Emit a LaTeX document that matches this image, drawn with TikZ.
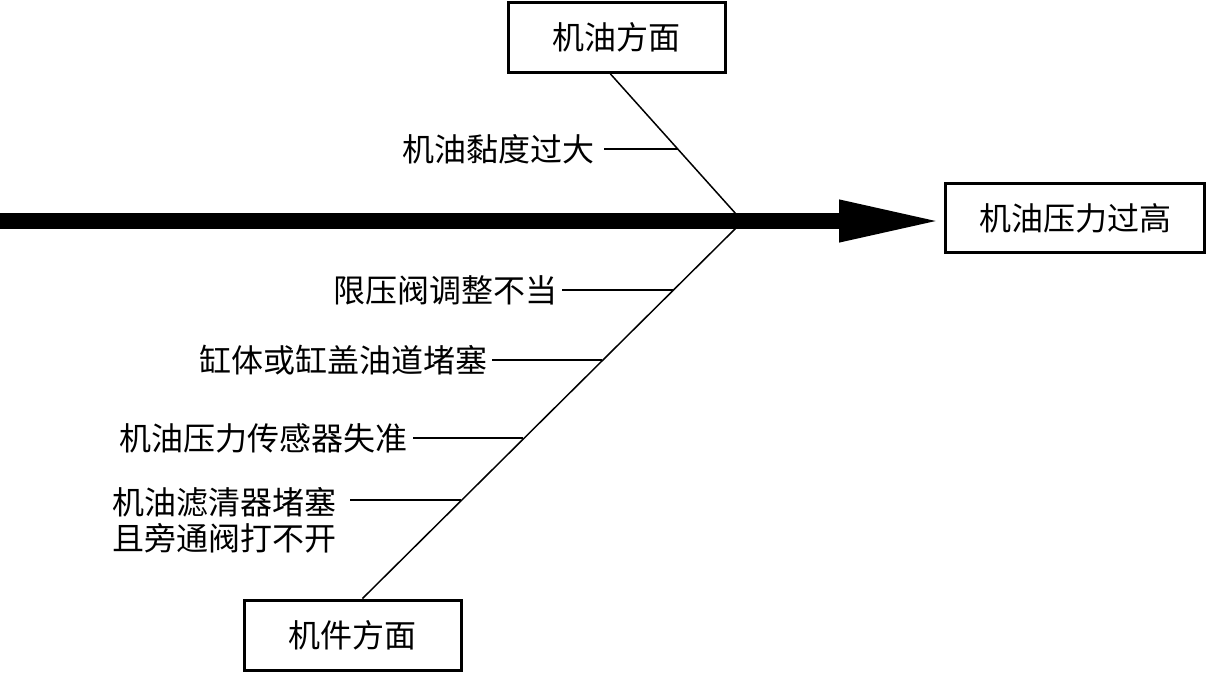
\documentclass[tikz,border=0pt]{standalone}
\usepackage{fontspec}
\newfontfamily\cjk{Noto Sans CJK SC}
\usetikzlibrary{arrows.meta}
\begin{document}
\begin{tikzpicture}[x=1pt,y=-1pt,
  every node/.style={font=\cjk\fontsize{32}{38}\selectfont, inner sep=0pt},
  catbox/.style={draw, line width=3pt, minimum width=217pt, minimum height=70pt},
  bone/.style={line width=1.5pt},
  twig/.style={line width=1.3pt},
  causelabel/.style={anchor=east}]
\useasboundingbox (0,0) rectangle (1210,673);
\node[catbox] (top) at (616.5,37.5) {机油方面};
\node[catbox] (bot) at (352.5,635) {机件方面};
\node[draw, line width=3pt, minimum width=259pt, minimum height=69pt] (eff) at (1075,218) {机油压力过高};
\coordinate (tail) at (0,221);
\draw[line width=16pt, -{Triangle[length=105pt 0, width=38pt 0]}] (tail) -- (eff.west |- tail);
\coordinate (jt) at (736,214);
\coordinate (jb) at (736,228);
\draw[bone] ([xshift=-6pt]top.south) -- (jt);
\draw[bone] ([xshift=10pt]bot.north) -- (jb);
% causes
\node[causelabel] (c0) at (595,149) {机油黏度过大};
\coordinate (p0) at (678,149);
\draw[twig] ([xshift=9pt]c0.east) -- (p0);
\node[causelabel] (c1) at (558,290) {限压阀调整不当};
\coordinate (p1) at (673,290);
\draw[twig] ([xshift=4pt]c1.east) -- (p1);
\node[causelabel] (c2) at (488,360) {缸体或缸盖油道堵塞};
\coordinate (p2) at (602,360);
\draw[twig] ([xshift=4pt]c2.east) -- (p2);
\node[causelabel] (c3) at (408,438) {机油压力传感器失准};
\coordinate (p3) at (523,438);
\draw[twig] ([xshift=5pt]c3.east) -- (p3);
\node[anchor=west, align=left, font=\cjk\fontsize{32}{36}\selectfont] (c4) at (112,520) {机油滤清器堵塞\\且旁通阀打不开};
\coordinate (q4) at (350,500);
\coordinate (p4) at (461,500);
\draw[twig] (q4) -- (p4);
\end{tikzpicture}
\end{document}
